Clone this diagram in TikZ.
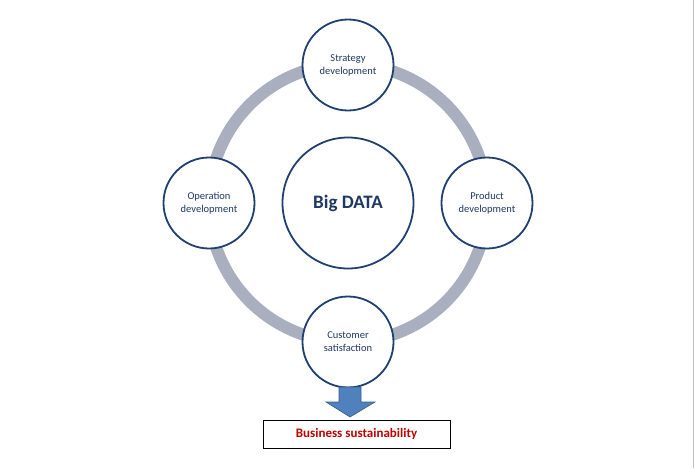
\documentclass[tikz,border=0pt]{standalone}
\usepackage{fontspec}
\setmainfont{Carlito}
\definecolor{ringgray}{RGB}{169,175,191}
\definecolor{circblue}{RGB}{31,64,112}
\definecolor{txtblue}{RGB}{31,56,100}
\definecolor{arrowfill}{RGB}{79,129,189}
\definecolor{arrowline}{RGB}{56,93,138}
\definecolor{bizred}{RGB}{192,0,0}
\definecolor{edgegray}{RGB}{190,190,190}
\begin{document}
\begin{tikzpicture}[x=1pt,y=-1pt,
  smallcirc/.style={circle,draw=circblue,line width=1.8pt,fill=white,minimum size=91pt,inner sep=0pt,
    text=txtblue,align=center,font=\fontsize{10.5}{13}\selectfont},
  bigcirc/.style={circle,draw=circblue,line width=1.8pt,fill=white,minimum size=131pt,inner sep=0pt,
    text=txtblue,font=\fontsize{19}{22}\selectfont\bfseries},
  bizbox/.style={draw=black,line width=1pt,minimum width=187pt,minimum height=28pt,inner sep=0pt,
    text=bizred,font=\fontsize{13}{15}\selectfont\bfseries},
  ring/.style={draw=ringgray,line width=12pt}]
\useasboundingbox (0,0) rectangle (695,468);
\fill[white] (0,0) rectangle (695,468);
\coordinate (edgetop) at (693,0);
\coordinate (edgebot) at (693,468);
\draw[edgegray,line width=1pt] (edgetop) -- (edgebot);
\coordinate (ctr) at (348,203);
\draw[ring] (ctr) circle[radius=139];
\node[bigcirc] (big) at (ctr) {Big DATA};
\node[smallcirc] (strat) at (348,65) {Strategy\\development};
\node[smallcirc] (oper) at (209,203) {Operation\\development};
\node[smallcirc] (prod) at (487,203) {Product\\development};
\node[smallcirc] (cust) at (348,342) {Customer\\satisfaction};
\node[bizbox] (biz) at (356.5,434) {Business sustainability};
\draw[fill=arrowfill,draw=arrowline,line width=0.6pt]
  (339,387) -- (361,387) -- (361,402) -- (375,402) -- (350,417) -- (326,402) -- (339,402) -- cycle;
\end{tikzpicture}
\end{document}
